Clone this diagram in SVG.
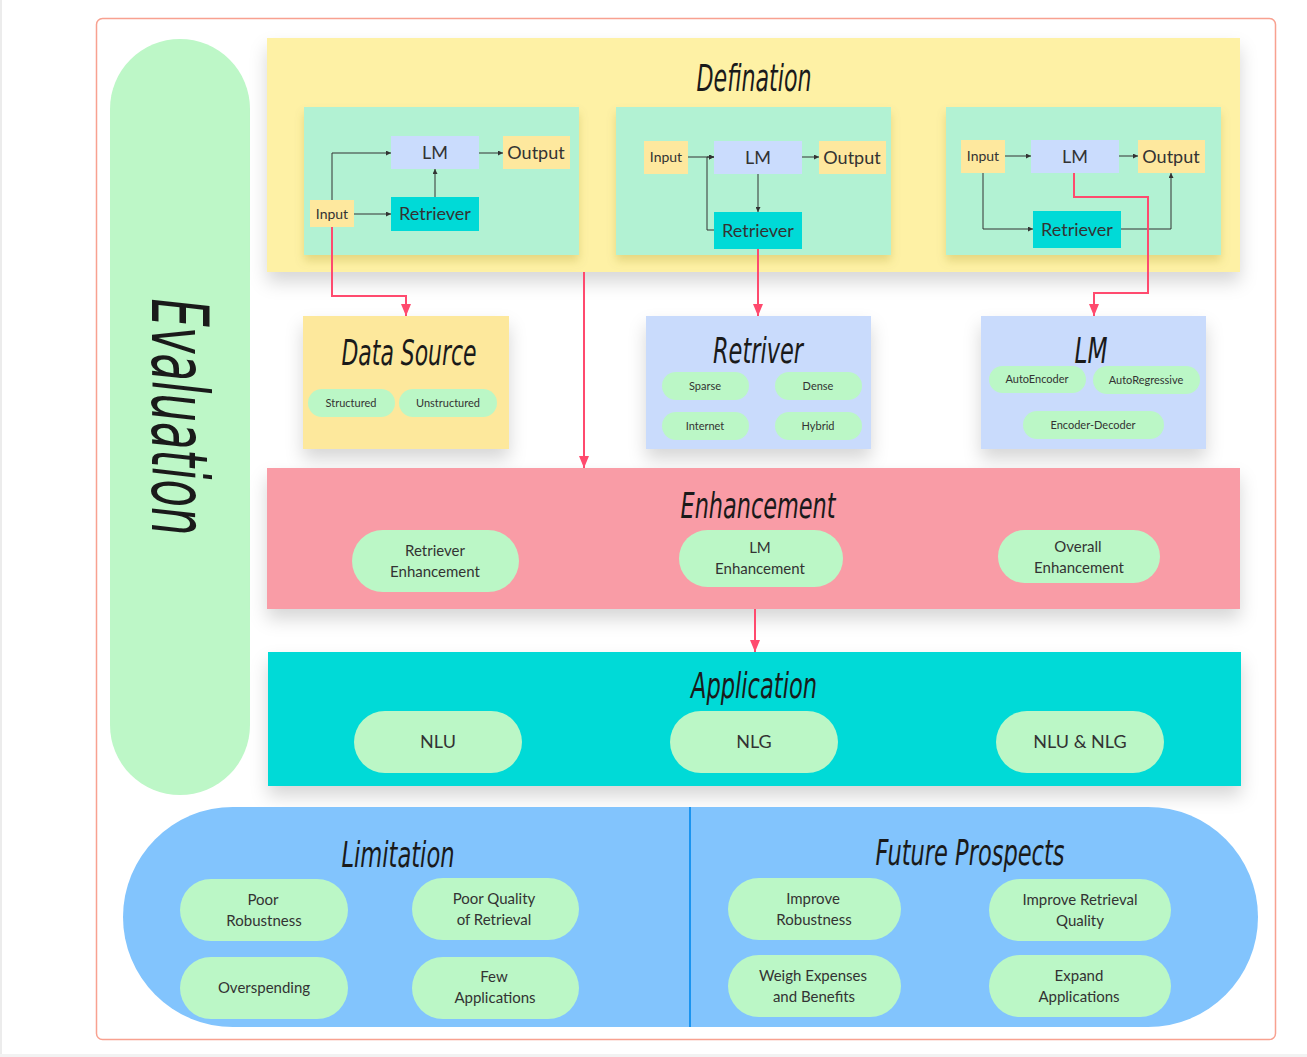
<svg xmlns="http://www.w3.org/2000/svg" width="1307" height="1057" viewBox="0 0 1307 1057">
<defs>
<style>
.t{font-family:"Liberation Sans Narrow","DejaVu Sans Condensed","Liberation Sans",sans-serif;font-style:italic;fill:#1a1a1a;text-anchor:middle}
.b{font-family:"Source Sans Pro",Lato,"Noto Sans",sans-serif;fill:#333;text-anchor:middle}
.pill{fill:#bbf7c6}
.mint{fill:#b2f2d3}
.lmn{fill:#cadcfd}
.yel{fill:#fee89e}
.cyan{fill:#00dad7}
.blk{fill:none;stroke:#333;stroke-width:1}
.red{fill:none;stroke:#ff4a6e;stroke-width:2}
</style>
<filter id="sh" x="-10%" y="-20%" width="120%" height="150%">
<feDropShadow dx="0" dy="10" stdDeviation="9" flood-color="#000" flood-opacity="0.16"/>
</filter>
<filter id="sh2" x="-10%" y="-20%" width="120%" height="150%">
<feDropShadow dx="0" dy="6" stdDeviation="5" flood-color="#8a7a00" flood-opacity="0.22"/>
</filter>
<marker id="ab" viewBox="0 0 6 6" refX="6" refY="3" markerWidth="5" markerHeight="5" markerUnits="userSpaceOnUse" orient="auto"><path d="M0,0 L6,3 L0,6 z" fill="#333"/></marker>
<marker id="ar" viewBox="0 0 12 10" refX="12" refY="5" markerWidth="12" markerHeight="10" markerUnits="userSpaceOnUse" orient="auto"><path d="M0,0 L12,5 L0,10 z" fill="#ff4a6e"/></marker>
</defs>
<rect width="1307" height="1057" fill="#fff"/>
<rect x="0" y="0" width="2" height="1057" fill="#ececec"/>
<rect x="0" y="1054" width="1307" height="3" fill="#f2f2f2"/>
<g id="frame"><rect x="96.500" y="18.500" width="1179" height="1021" rx="6" fill="#fff" stroke="#f8a190" stroke-width="1.500"/></g>

<g id="evaluation">
<rect x="110" y="39" width="140" height="756" rx="70" fill="#bdf7c7"/>
<text class="t" transform="translate(152,417) rotate(90)" font-size="78" textLength="237" lengthAdjust="spacingAndGlyphs">Evaluation</text>
</g>

<g id="definition">
<rect x="267" y="38" width="973" height="234" fill="#fef1a5" filter="url(#sh)"/>
<text class="t" x="754" y="91" font-size="38" textLength="115" lengthAdjust="spacingAndGlyphs">Defination</text>
</g>

<g id="def-box1">
<rect class="mint" x="304" y="107" width="275" height="148" filter="url(#sh2)"/>
<rect class="lmn" x="391" y="136" width="88" height="33"/><text class="b" x="435" y="159" font-size="18">LM</text>
<rect class="yel" x="503" y="136" width="67" height="33"/><text class="b" x="536" y="159" font-size="18">Output</text>
<rect class="yel" x="310" y="200" width="44" height="27"/><text class="b" x="332" y="219" font-size="14">Input</text>
<rect class="cyan" x="391" y="197" width="88" height="34"/><text class="b" x="435" y="220" font-size="18">Retriever</text>
</g>
<g id="def-box2">
<rect class="mint" x="616" y="107" width="275" height="148" filter="url(#sh2)"/>
<rect class="yel" x="644" y="141" width="44" height="33"/><text class="b" x="666" y="162" font-size="14">Input</text>
<rect class="lmn" x="714" y="141" width="88" height="33"/><text class="b" x="758" y="164" font-size="18">LM</text>
<rect class="yel" x="819" y="141" width="67" height="33"/><text class="b" x="852" y="164" font-size="18">Output</text>
<rect class="cyan" x="714" y="212" width="88" height="37"/><text class="b" x="758" y="237" font-size="18">Retriever</text>
</g>
<g id="def-box3">
<rect class="mint" x="946" y="107" width="275" height="148" filter="url(#sh2)"/>
<rect class="yel" x="961" y="140" width="44" height="33"/><text class="b" x="983" y="161" font-size="14">Input</text>
<rect class="lmn" x="1031" y="140" width="88" height="33"/><text class="b" x="1075" y="163" font-size="18">LM</text>
<rect class="yel" x="1138" y="140" width="67" height="33"/><text class="b" x="1171" y="163" font-size="18">Output</text>
<rect class="cyan" x="1033" y="211" width="88" height="37"/><text class="b" x="1077" y="236" font-size="18">Retriever</text>
</g>

<g id="data-source">
<rect x="303" y="316" width="206" height="133" fill="#fde89c" filter="url(#sh)"/>
<text class="t" x="409" y="365" font-size="36" textLength="135" lengthAdjust="spacingAndGlyphs">Data Source</text>
<rect class="pill" x="308" y="389" width="87" height="28" rx="14"/><text class="b" x="351" y="407" font-size="11">Structured</text>
<rect class="pill" x="399" y="389" width="98" height="28" rx="14"/><text class="b" x="448" y="407" font-size="11">Unstructured</text>
</g>

<g id="retriver">
<rect x="646" y="316" width="225" height="133" fill="#c9dbfc" filter="url(#sh)"/>
<text class="t" x="758" y="363" font-size="36" textLength="90" lengthAdjust="spacingAndGlyphs">Retriver</text>
<rect class="pill" x="662" y="372" width="87" height="28" rx="14"/><text class="b" x="705" y="390" font-size="11">Sparse</text>
<rect class="pill" x="775" y="372" width="87" height="28" rx="14"/><text class="b" x="818" y="390" font-size="11">Dense</text>
<rect class="pill" x="662" y="412" width="87" height="28" rx="14"/><text class="b" x="705" y="430" font-size="11">Internet</text>
<rect class="pill" x="775" y="412" width="87" height="28" rx="14"/><text class="b" x="818" y="430" font-size="11">Hybrid</text>
</g>

<g id="lm">
<rect x="981" y="316" width="225" height="133" fill="#c9dbfc" filter="url(#sh)"/>
<text class="t" x="1091" y="363" font-size="36" textLength="33" lengthAdjust="spacingAndGlyphs">LM</text>
<rect class="pill" x="989" y="366" width="97" height="27" rx="13.500"/><text class="b" x="1037" y="383" font-size="11">AutoEncoder</text>
<rect class="pill" x="1093" y="366" width="107" height="28" rx="14"/><text class="b" x="1146" y="384" font-size="11">AutoRegressive</text>
<rect class="pill" x="1023" y="411" width="141" height="28" rx="14"/><text class="b" x="1093" y="429" font-size="11">Encoder-Decoder</text>
</g>

<g id="enhancement">
<rect x="267" y="468" width="973" height="141" fill="#f99ca6" filter="url(#sh)"/>
<text class="t" x="758" y="518" font-size="36" textLength="155" lengthAdjust="spacingAndGlyphs">Enhancement</text>
<rect class="pill" x="352" y="530" width="167" height="62" rx="31"/>
<text class="b" x="435" y="556" font-size="15">Retriever</text><text class="b" x="435" y="577" font-size="15">Enhancement</text>
<rect class="pill" x="679" y="530" width="164" height="57" rx="28.500"/>
<text class="b" x="760" y="553" font-size="15">LM</text><text class="b" x="760" y="574" font-size="15">Enhancement</text>
<rect class="pill" x="998" y="530" width="162" height="53" rx="26.500"/>
<text class="b" x="1078" y="552" font-size="15">Overall</text><text class="b" x="1079" y="573" font-size="15">Enhancement</text>
</g>

<g id="application">
<rect x="268" y="652" width="973" height="134" fill="#00dad7" filter="url(#sh)"/>
<text class="t" x="754" y="698" font-size="36" textLength="126" lengthAdjust="spacingAndGlyphs">Application</text>
<rect class="pill" x="354" y="711" width="168" height="62" rx="31"/><text class="b" x="438" y="748" font-size="18">NLU</text>
<rect class="pill" x="670" y="711" width="168" height="62" rx="31"/><text class="b" x="754" y="748" font-size="18">NLG</text>
<rect class="pill" x="996" y="711" width="168" height="62" rx="31"/><text class="b" x="1080" y="748" font-size="18">NLU &amp; NLG</text>
</g>

<g id="bottom-panel">
<rect x="123" y="807" width="1135" height="220" rx="110" fill="#82c4fd"/>
<line x1="690" y1="807" x2="690" y2="1027" stroke="#1a94f0" stroke-width="2"/>
</g>
<g id="limitation">
<text class="t" x="398" y="867" font-size="36" textLength="113" lengthAdjust="spacingAndGlyphs">Limitation</text>
<rect class="pill" x="180" y="879" width="168" height="62" rx="31"/>
<text class="b" x="263" y="905" font-size="15">Poor</text><text class="b" x="264" y="926" font-size="15">Robustness</text>
<rect class="pill" x="412" y="878" width="167" height="62" rx="31"/>
<text class="b" x="494" y="904" font-size="15">Poor Quality</text><text class="b" x="494" y="925" font-size="15">of Retrieval</text>
<rect class="pill" x="180" y="957" width="168" height="62" rx="31"/>
<text class="b" x="264" y="993" font-size="15">Overspending</text>
<rect class="pill" x="412" y="957" width="167" height="62" rx="31"/>
<text class="b" x="494" y="982" font-size="15">Few</text><text class="b" x="495" y="1003" font-size="15">Applications</text>
</g>
<g id="future-prospects">
<text class="t" x="970" y="865" font-size="36" textLength="189" lengthAdjust="spacingAndGlyphs">Future Prospects</text>
<rect class="pill" x="728" y="878" width="173" height="62" rx="31"/>
<text class="b" x="813" y="904" font-size="15">Improve</text><text class="b" x="814" y="925" font-size="15">Robustness</text>
<rect class="pill" x="989" y="879" width="182" height="62" rx="31"/>
<text class="b" x="1080" y="905" font-size="15">Improve Retrieval</text><text class="b" x="1080" y="926" font-size="15">Quality</text>
<rect class="pill" x="728" y="955" width="173" height="62" rx="31"/>
<text class="b" x="813" y="981" font-size="15">Weigh Expenses</text><text class="b" x="814" y="1002" font-size="15">and Benefits</text>
<rect class="pill" x="989" y="955" width="182" height="62" rx="31"/>
<text class="b" x="1079" y="981" font-size="15">Expand</text><text class="b" x="1079" y="1002" font-size="15">Applications</text>
</g>

<g id="connectors">
<path class="blk" d="M332,200 V153 H391" marker-end="url(#ab)"/>
<path class="blk" d="M354,214 H391" marker-end="url(#ab)"/>
<path class="blk" d="M435,197 V169" marker-end="url(#ab)"/>
<path class="blk" d="M479,153 H503" marker-end="url(#ab)"/>
<path class="blk" d="M688,157 H714" marker-end="url(#ab)"/>
<path class="blk" d="M714,230 H707 V157 H714" marker-end="url(#ab)"/>
<path class="blk" d="M758,174 V212" marker-end="url(#ab)"/>
<path class="blk" d="M802,157 H819" marker-end="url(#ab)"/>
<path class="blk" d="M1005,156 H1031" marker-end="url(#ab)"/>
<path class="blk" d="M1119,156 H1138" marker-end="url(#ab)"/>
<path class="blk" d="M983,173 V229 H1033" marker-end="url(#ab)"/>
<path class="blk" d="M1121,229 H1171 V173" marker-end="url(#ab)"/>
<path class="red" d="M332,227 V296 H406 V316" marker-end="url(#ar)"/>
<path class="red" d="M758,249 V316" marker-end="url(#ar)"/>
<path class="red" d="M1074,173 V197 H1148 V293 H1094 V316" marker-end="url(#ar)"/>
<path class="red" d="M584,272 V468" marker-end="url(#ar)"/>
<path class="red" d="M755,609 V652" marker-end="url(#ar)"/>
</g>
</svg>
